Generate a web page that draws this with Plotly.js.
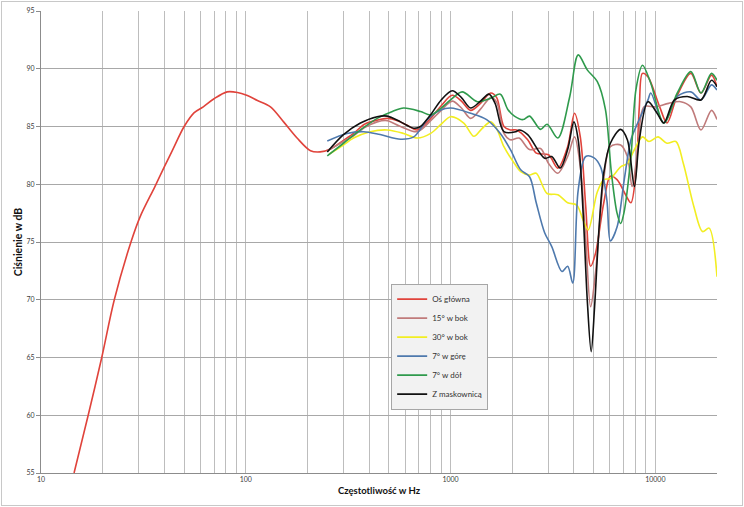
<!DOCTYPE html>
<html>
<head>
<meta charset="utf-8">
<script src="https://cdn.plot.ly/plotly-3.0.1.min.js"></script>
<style>
html,body{margin:0;padding:0;background:#fff;}
#wrap{position:absolute;left:1px;top:1px;width:740px;height:503px;border:1px solid #c8c8c8;}
#chart{width:740px;height:503px;}
</style>
</head>
<body>
<div id="wrap"><div id="chart"></div></div>
<script>
// ---- data (frequency in Hz, level in dB) ----
const seriesNames = ["Oś główna", "15° w bok", "30° w bok", "7° w górę", "7° w dół", "Z maskownicą"];
const seriesColors = ["#e0433b", "#c07b7b", "#f2ee22", "#4e79ad", "#2f9a4c", "#111111"];

const osF  = [14.5,17,19.8,22.8,27.5,30.5,36,40,44,50,56,62,70,81,91,101,114,132,153,178,207,231,259,300,336,380,438,491,550,614,688,800,900,1019,1130,1253,1400,1570,1680,1822,1960,2100,2380,2620,3010,3340,3730,4030,4300,4570,4830,5100,5600,6030,6500,7200,7600,8040,8350,8650,9200,10500,11400,12800,14900,16700,18800,20000];
const osDb = [55,60,65,70,75,77.2,79.8,81.5,83,85,86.2,86.7,87.4,88,87.95,87.7,87.25,86.7,85.4,84,82.9,82.8,83.05,83.8,84.4,85.2,85.55,85.7,85.5,85.1,84.7,85.7,86.8,87.7,87.2,86.4,87.0,87.9,87.5,85.0,84.7,84.7,83.85,82.7,82.55,81.4,83.25,86.15,84.1,78.1,72.9,74.0,78.4,80.7,80.4,79.0,78.4,81.0,86.7,89.6,89.3,86.7,85.3,87.7,89.6,87.9,89.45,88.45];

const b15F  = [250,300,336,380,438,491,570,688,800,900,1019,1130,1253,1400,1570,1680,1822,1960,2160,2430,2750,3010,3340,3730,4030,4300,4570,4830,5100,5600,6030,6770,7300,7700,8200,8800,10000,11600,13300,14900,16700,18800,20000];
const b15Db = [82.9,83.7,84.2,84.9,85.4,85.5,85.0,84.55,85.5,86.4,87.2,86.6,85.7,86.5,87.5,87.1,84.4,83.85,84.0,83.0,83.1,81.8,80.95,82.4,84.1,81.55,75.2,69.4,72.3,80.5,83.25,83.4,82.4,79.8,83.0,86.7,86.7,87.0,87.15,86.7,84.7,86.4,85.6];

const b30F  = [255,300,336,405,491,590,688,800,900,1000,1160,1300,1420,1570,1680,1822,2050,2200,2430,2620,2960,3340,3730,4130,4440,4700,5200,5600,6030,6770,7300,7900,8650,9300,10300,11400,12600,13700,15400,17000,18300,20000];
const b30Db = [82.6,83.4,84.0,84.55,84.7,84.4,84.0,84.4,85.2,85.85,85.3,84.15,84.8,85.4,84.8,83.25,81.8,81.1,80.8,80.95,79.2,79.1,78.4,78.2,76.9,76.05,79.3,80.4,80.5,81.5,81.8,83.0,84.1,83.7,84.1,83.55,83.7,81.8,78.1,75.9,76.2,72.0];

const goraF  = [250,312,376,453,570,661,770,890,1000,1253,1500,1750,1960,2200,2430,2620,2880,3120,3500,3730,3950,4200,4570,5000,5400,5800,6030,6500,7050,7600,8200,9200,9500,11000,12800,14900,16700,18800,20000];
const goraDb = [83.75,84.4,84.55,84.3,83.9,84.1,85.6,86.4,86.6,86.15,85.6,84.4,83.0,81.25,80.65,78.4,75.8,74.6,72.45,72.9,71.45,79.5,82.4,82.3,81.5,78.6,75.1,76.3,80.4,83.85,85.3,87.3,87.9,85.3,87.6,88.0,87.3,88.6,88.15];

const dolF  = [250,300,363,438,520,590,713,800,900,1000,1140,1350,1570,1750,1900,2050,2260,2430,2750,2960,3340,3820,4200,4650,5200,5700,6100,6500,6770,7020,7600,8040,8650,9500,11000,12800,14900,16700,18800,20000];
const dolDb = [82.45,83.55,84.7,85.7,86.3,86.6,86.3,86.0,86.6,87.3,88.0,87.15,87.45,87.8,86.5,85.9,85.6,85.9,84.75,85.2,84.0,87.6,91.2,89.9,88.9,86.5,81.0,77.5,76.6,77.5,82.4,88.2,90.3,88.75,85.3,87.9,89.75,87.9,89.6,89.0];

const maskF  = [250,300,363,438,491,570,661,713,798,900,1019,1130,1253,1400,1540,1650,1822,2080,2160,2380,2880,3120,3430,3730,4000,4200,4440,4650,4860,5050,5300,5600,6030,6770,7300,7900,8350,9200,10200,11000,12400,14300,16700,18800,20000];
const maskDb = [82.8,84.3,85.3,85.85,85.9,85.4,84.85,85.0,86.0,87.3,88.1,87.5,86.6,87.2,87.8,87.0,84.55,84.55,84.7,84.3,82.25,82.4,81.4,83.0,85.4,83.85,77.5,70.0,65.5,69.4,76.0,81.0,83.55,84.75,83.85,79.8,83.85,87.15,86.15,85.3,87.3,87.6,87.3,89.0,88.45];

const xs = [osF, b15F, b30F, goraF, dolF, maskF];
const ys = [osDb, b15Db, b30Db, goraDb, dolDb, maskDb];

// axis ticks
const yTicks = [55,60,65,70,75,80,85,90,95];
const xDecadeLabels = {10:"10",100:"100",1000:"1000",10000:"10000"};

const gridVals = [], gridText = [];
[10,100,1000,10000].forEach(d => {
  for (let k = 1; k <= 9; k++) {
    const v = k * d;
    if (v > 20000) break;
    gridVals.push(v);
    gridText.push(k === 1 ? xDecadeLabels[d] : "");
  }
});
gridVals.push(20000); gridText.push("");

const traces = seriesNames.map((n, i) => ({
  type: "scatter", mode: "lines", name: n,
  x: xs[i], y: ys[i],
  line: {color: seriesColors[i], width: 1.6, shape: "spline", smoothing: 0.9}
}));

const layout = {
  width: 740, height: 503,
  margin: {l: 39, r: 25, t: 9, b: 32},
  paper_bgcolor: "#ffffff", plot_bgcolor: "#ffffff",
  font: {family: "Lato, 'Liberation Sans', sans-serif", color: "#404040", size: 7},
  showlegend: true,
  legend: {
    x: 0.518, y: 0.41, xanchor: "left", yanchor: "top",
    bgcolor: "#f2f2f2", bordercolor: "#a6a6a6", borderwidth: 1,
    font: {size: 8, color: "#333333"}, tracegroupgap: 0, itemwidth: 30
  },
  xaxis: {
    type: "log", range: [1, Math.log10(20000)],
    tickmode: "array", tickvals: gridVals, ticktext: gridText,
    showgrid: true, gridcolor: "#bdbdbd", gridwidth: 1,
    showline: true, linecolor: "#8c8c8c", linewidth: 1,
    ticks: "", zeroline: false,
    tickfont: {size: 7, color: "#404040"},
    title: {text: "Częstotliwość w Hz", font: {size: 9.5, color: "#111", family: "Lato, sans-serif", weight: "bold"}, standoff: 4}
  },
  yaxis: {
    range: [55, 95], tickvals: yTicks,
    showgrid: true, gridcolor: "#a8a8a8", gridwidth: 1,
    showline: true, linecolor: "#8c8c8c", linewidth: 1,
    ticks: "outside", ticklen: 4, tickcolor: "#8c8c8c",
    zeroline: false,
    tickfont: {size: 7, color: "#404040"},
    title: {text: "Ciśnienie w dB", font: {size: 10.5, color: "#111", family: "Lato, sans-serif", weight: "bold"}, standoff: 1}
  }
};

Plotly.newPlot("chart", traces, layout, {displayModeBar: false, staticPlot: true});
</script>
</body>
</html>
